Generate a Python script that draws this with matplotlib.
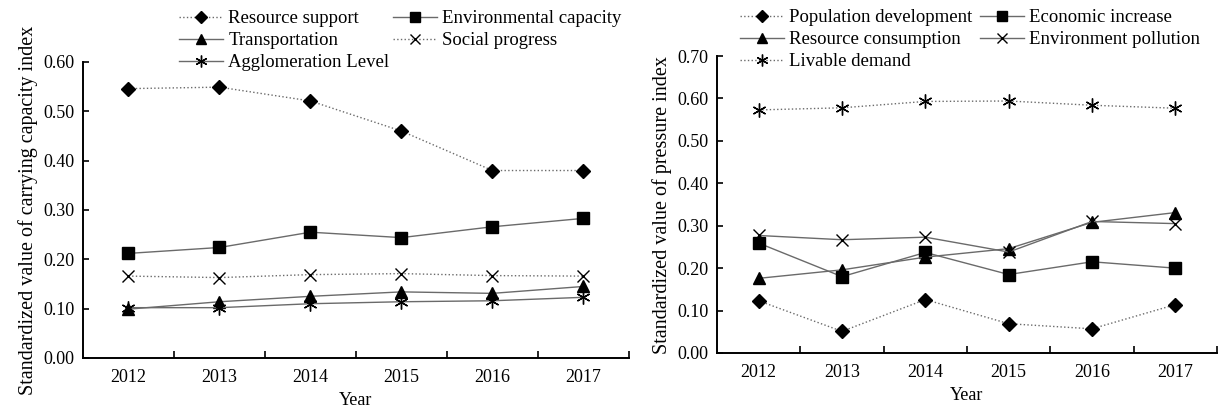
import matplotlib.pyplot as plt
import numpy as np

plt.rcParams['font.family'] = ['Liberation Serif', 'DejaVu Serif']

years = ['2012', '2013', '2014', '2015', '2016', '2017']

# carrying capacity (left)
resource_support = [0.546, 0.549, 0.521, 0.460, 0.380, 0.380]
environmental_capacity = [0.212, 0.224, 0.255, 0.244, 0.266, 0.283]
transportation = [0.099, 0.114, 0.125, 0.134, 0.131, 0.145]
social_progress = [0.166, 0.163, 0.169, 0.171, 0.167, 0.166]
agglomeration = [0.102, 0.102, 0.110, 0.114, 0.116, 0.123]

# pressure (right)
population_dev = [0.123, 0.051, 0.126, 0.069, 0.057, 0.114]
economic_inc = [0.259, 0.180, 0.237, 0.185, 0.215, 0.200]
resource_cons = [0.176, 0.196, 0.226, 0.246, 0.308, 0.331]
env_pollution = [0.277, 0.267, 0.273, 0.238, 0.310, 0.305]
livable_demand = [0.573, 0.578, 0.593, 0.594, 0.584, 0.577]

LINE = '#6a6a6a'
STAR = (6, 2, 0)


def series(ax, y, marker, ls, label, ms=8):
    x = np.arange(len(years))
    return ax.plot(x, y, color=LINE, lw=1.0, ls=ls, marker=marker, ms=ms,
                   mfc='black', mec='black', mew=1.0, label=label)[0]


def style_axes(ax, ymax, ylabel):
    ax.set_xlim(-0.5, 5.5)
    ax.set_ylim(0, ymax)
    ax.spines['top'].set_visible(False)
    ax.spines['right'].set_visible(False)
    ax.spines['left'].set_linewidth(1.4)
    ax.spines['bottom'].set_linewidth(1.4)
    ax.set_xticks(range(len(years)))
    ax.set_xticklabels(years)
    ax.set_xticks(np.arange(0.5, 6.0, 1.0), minor=True)
    ax.tick_params(axis='x', which='major', length=0, pad=8, labelsize=13)
    ax.tick_params(axis='x', which='minor', direction='in', length=5, width=1.2)
    ax.set_yticks(np.arange(0, ymax + 0.001, 0.1))
    ax.set_yticklabels(['%.2f' % v for v in np.arange(0, ymax + 0.001, 0.1)])
    ax.tick_params(axis='y', direction='in', length=4, width=1.2, labelsize=13, pad=6)
    ax.set_xlabel('Year', fontsize=13, labelpad=4)
    ax.set_ylabel(ylabel, fontsize=14.5, labelpad=4)


fig = plt.figure(figsize=(12.18, 4.13), dpi=100)

ax1 = fig.add_axes([0.0681, 0.1332, 0.4483, 0.7167])
h_rs = series(ax1, resource_support, 'D', ':', 'Resource support', 7)
h_ec = series(ax1, environmental_capacity, 's', '-', 'Environmental capacity', 8)
h_tr = series(ax1, transportation, '^', '-', 'Transportation', 8)
h_sp = series(ax1, social_progress, 'x', ':', 'Social progress', 9)
h_al = series(ax1, agglomeration, STAR, '-', 'Agglomeration Level', 10)
style_axes(ax1, 0.6, 'Standardized value of carrying capacity index')
ax1.legend(handles=[h_rs, h_tr, h_al, h_ec, h_sp], ncol=2, frameon=False,
           fontsize=13.5, loc='upper left', bbox_to_anchor=(0.147, 0.975),
           bbox_transform=fig.transFigure, borderpad=0, markerscale=0.85,
           handlelength=2.35, handletextpad=0.27, columnspacing=0.2,
           labelspacing=0.26, borderaxespad=0)

ax2 = fig.add_axes([0.5887, 0.1453, 0.4105, 0.719])
h_pd = series(ax2, population_dev, 'D', ':', 'Population development', 7)
h_ei = series(ax2, economic_inc, 's', '-', 'Economic increase', 8)
h_rc = series(ax2, resource_cons, '^', '-', 'Resource consumption', 8)
h_ep = series(ax2, env_pollution, 'x', '-', 'Environment pollution', 9)
h_ld = series(ax2, livable_demand, STAR, ':', 'Livable demand', 10)
style_axes(ax2, 0.7, 'Standardized value of pressure index')
ax2.legend(handles=[h_pd, h_rc, h_ld, h_ei, h_ep], ncol=2, frameon=False,
           fontsize=13.5, loc='upper left', bbox_to_anchor=(0.6076, 0.978),
           bbox_transform=fig.transFigure, borderpad=0, markerscale=0.85,
           handlelength=2.35, handletextpad=0.27, columnspacing=0.4,
           labelspacing=0.26, borderaxespad=0)

fig.savefig('out.png', dpi=100)
